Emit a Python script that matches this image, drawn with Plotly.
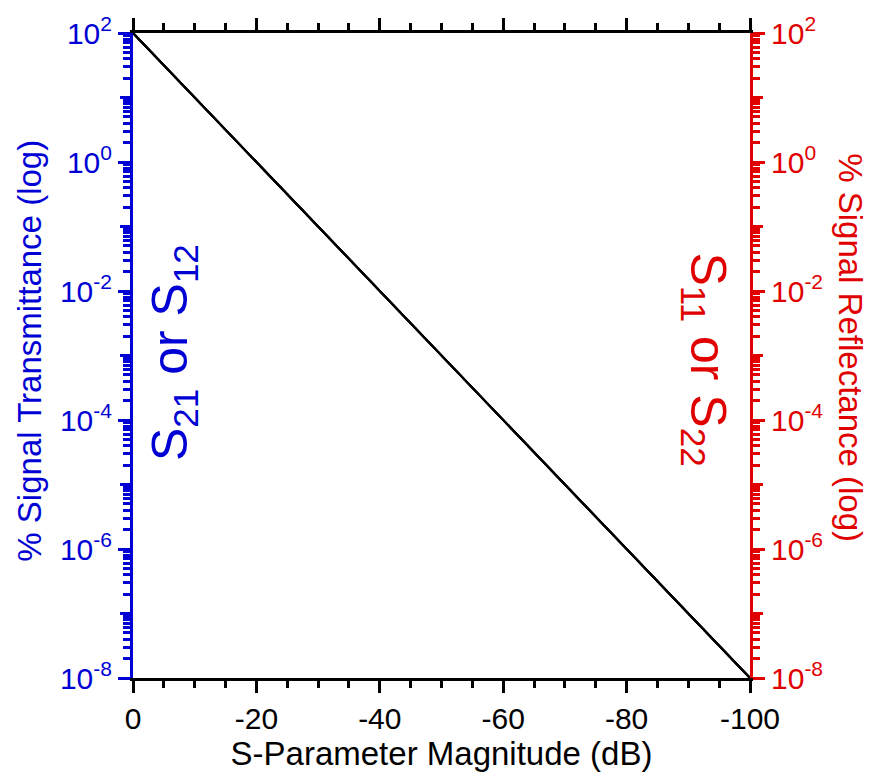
import plotly.graph_objects as go

# S-parameter magnitude (dB) and the equivalent power percentage
db_values = [0, -100]
percent_values = [100, 1e-8]

# x-axis ticks
x_major = [0, -20, -40, -60, -80, -100]
x_major_text = ["0", "-20", "-40", "-60", "-80", "-100"]
x_minor = [-5, -10, -15, -25, -30, -35, -45, -50, -55, -65, -70, -75, -85, -90, -95]

# log-axis decades: even decades are labelled, odd decades get an unlabelled major tick
label_exponents = [-8, -6, -4, -2, 0, 2]
odd_exponents = [-7, -5, -3, -1, 1]
y_labelled = [10.0 ** e for e in label_exponents]
y_labelled_text = [f"10<sup>{e}</sup>" for e in label_exponents]
y_odd = [10.0 ** e for e in odd_exponents]
y_minor = [m * 10.0 ** e for e in range(-8, 2) for m in range(2, 10)]

BLUE = "#0000D4"
RED = "#E00000"
FONT = "Liberation Sans, Arial, sans-serif"

fig = go.Figure()
for x_id, y_id in [("x", "y"), ("x", "y2"), ("x2", "y"), ("x", "y3"), ("x", "y4")]:
    fig.add_trace(go.Scatter(x=db_values, y=percent_values, mode="lines",
                             line=dict(color="black", width=2), showlegend=False,
                             xaxis=x_id, yaxis=y_id))

tick_common = dict(ticks="outside", ticklen=12, tickwidth=3, showgrid=False,
                   zeroline=False, linewidth=3)


def log_axis(color, side, overlay=None):
    axis = dict(
        type="log", range=[-8, 2], side=side,
        tickmode="array", tickvals=y_labelled, ticktext=y_labelled_text,
        tickfont=dict(size=30, color=color), linecolor=color, tickcolor=color,
        minor=dict(tickmode="array", tickvals=y_minor, ticks="outside", ticklen=7,
                   tickwidth=2.5, tickcolor=color),
        **tick_common,
    )
    if overlay:
        axis["overlaying"] = overlay
    return axis


def odd_decade_axis(color, side):
    return dict(
        type="log", range=[-8, 2], side=side, overlaying="y",
        tickmode="array", tickvals=y_odd, showticklabels=False,
        ticks="outside", ticklen=12, tickwidth=3, tickcolor=color,
        showline=False, showgrid=False, zeroline=False,
    )


fig.update_layout(
    width=870, height=780,
    margin=dict(l=133, r=120, t=30, b=102),
    paper_bgcolor="white", plot_bgcolor="white",
    font=dict(family=FONT),
    xaxis=dict(
        range=[0, -100], tickmode="array", tickvals=x_major, ticktext=x_major_text,
        tickfont=dict(size=30, color="black"), linecolor="black", tickcolor="black",
        mirror=True,
        minor=dict(tickmode="array", tickvals=x_minor, ticks="outside", ticklen=7,
                   tickwidth=2.5, tickcolor="black"),
        title=dict(text="S-Parameter Magnitude (dB)", font=dict(size=33, color="black"),
                   standoff=8),
        **tick_common,
    ),
    # ticks along the top frame edge
    xaxis2=dict(
        range=[0, -100], overlaying="x", side="top", anchor="y",
        tickmode="array", tickvals=x_major, showticklabels=False,
        ticks="outside", ticklen=12, tickwidth=3, tickcolor="black",
        minor=dict(tickmode="array", tickvals=x_minor, ticks="outside", ticklen=7,
                   tickwidth=2.5, tickcolor="black"),
        showline=True, linecolor="black", linewidth=3,
        showgrid=False, zeroline=False, automargin=False,
    ),
    yaxis=log_axis(BLUE, "left"),
    yaxis2=log_axis(RED, "right", overlay="y"),
    yaxis3=odd_decade_axis(BLUE, "left"),
    yaxis4=odd_decade_axis(RED, "right"),
    annotations=[
        dict(text="% Signal Transmittance (log)", xref="paper", yref="paper",
             x=-0.168, y=0.508, xanchor="center", yanchor="middle", textangle=-90,
             showarrow=False, font=dict(size=33, color=BLUE)),
        dict(text="% Signal Reflectance (log)", xref="paper", yref="paper",
             x=1.163, y=0.512, xanchor="center", yanchor="middle", textangle=90,
             showarrow=False, font=dict(size=33, color=RED)),
        dict(text="S<sub>21</sub> or S<sub>12</sub>", xref="paper", yref="paper",
             x=0.066, y=0.505, xanchor="center", yanchor="middle", textangle=-90,
             showarrow=False, font=dict(size=50, color=BLUE)),
        dict(text="S<sub>11</sub> or S<sub>22</sub>", xref="paper", yref="paper",
             x=0.927, y=0.494, xanchor="center", yanchor="middle", textangle=90,
             showarrow=False, font=dict(size=50, color=RED)),
    ],
)

fig.write_html("out.html")
